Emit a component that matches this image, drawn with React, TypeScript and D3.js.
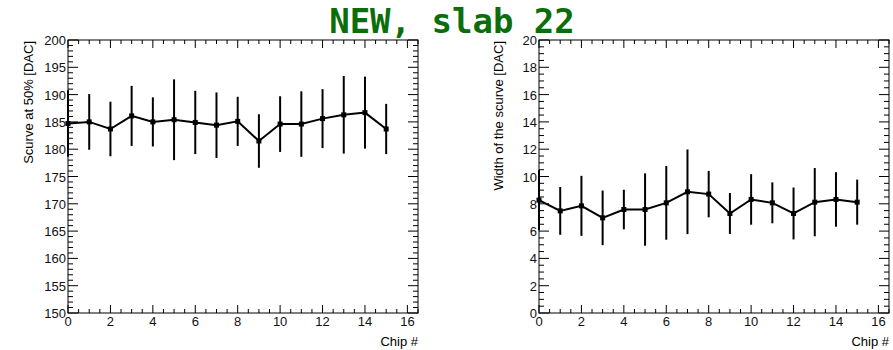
import React, { useEffect, useRef } from "react";
import * as d3 from "d3";

const chips = [0, 1, 2, 3, 4, 5, 6, 7, 8, 9, 10, 11, 12, 13, 14, 15];
const scurveMean = [184.7, 185.0, 183.7, 186.1, 185.0, 185.4, 184.9, 184.4, 185.1, 181.5, 184.6, 184.6, 185.6, 186.3, 186.7, 183.7];
const scurveErr = [6.1, 5.1, 5.0, 5.5, 4.5, 7.4, 5.8, 6.0, 4.5, 4.9, 5.1, 6.0, 5.4, 7.1, 6.6, 4.6];
const widthMean = [8.27, 7.48, 7.85, 6.97, 7.58, 7.58, 8.07, 8.88, 8.71, 7.29, 8.32, 8.07, 7.29, 8.12, 8.32, 8.12];
const widthErr = [2.2, 1.75, 2.2, 2.0, 1.45, 2.65, 2.7, 3.1, 1.7, 1.5, 1.85, 1.5, 1.9, 2.5, 2.0, 1.65];
const titleText = "NEW, slab 22";
const leftYLabel = "Scurve at 50% [DAC]";
const rightYLabel = "Width of the scurve [DAC]";
const xLabel = "Chip #";

type PanelCfg = {
  x0: number; x1: number; y0: number; y1: number;
  ymin: number; ymax: number; ymajor: number; yminor: number;
  vals: number[]; errs: number[]; ylabel: string; ylabelX: number;
};

function drawPanel(svg: d3.Selection<SVGSVGElement, unknown, null, undefined>, c: PanelCfg) {
  const g = svg.append("g");
  const x = d3.scaleLinear().domain([0, 16.5]).range([c.x0, c.x1]);
  const y = d3.scaleLinear().domain([c.ymin, c.ymax]).range([c.y1, c.y0]);
  const font = "'Liberation Sans', Arial, sans-serif";

  // frame
  g.append("rect").attr("x", c.x0).attr("y", c.y0).attr("width", c.x1 - c.x0).attr("height", c.y1 - c.y0)
    .attr("fill", "none").attr("stroke", "#000").attr("stroke-width", 1);

  // x ticks
  const xMinor = d3.range(0, 16.5001, 0.5);
  xMinor.forEach((v) => {
    const major = Math.abs(v / 2 - Math.round(v / 2)) < 1e-6;
    const len = major ? 8 : 4;
    const px = x(v);
    g.append("line").attr("x1", px).attr("x2", px).attr("y1", c.y1).attr("y2", c.y1 - len).attr("stroke", "#000");
    g.append("line").attr("x1", px).attr("x2", px).attr("y1", c.y0).attr("y2", c.y0 + len).attr("stroke", "#000");
    if (major) {
      g.append("text").attr("x", px).attr("y", c.y1 + 13).attr("text-anchor", "middle")
        .attr("font-family", font).attr("font-size", 13).attr("fill", "#111").text(String(v));
    }
  });

  // y ticks
  const n = Math.round((c.ymax - c.ymin) / c.yminor);
  for (let i = 0; i <= n; i++) {
    const v = c.ymin + i * c.yminor;
    const major = Math.abs((v - c.ymin) / c.ymajor - Math.round((v - c.ymin) / c.ymajor)) < 1e-6;
    const len = major ? 10 : 5;
    const py = y(v);
    g.append("line").attr("x1", c.x0).attr("x2", c.x0 + len).attr("y1", py).attr("y2", py).attr("stroke", "#000");
    g.append("line").attr("x1", c.x1).attr("x2", c.x1 - len).attr("y1", py).attr("y2", py).attr("stroke", "#000");
    if (major) {
      g.append("text").attr("x", c.x0 - 2).attr("y", py + 5).attr("text-anchor", "end")
        .attr("font-family", font).attr("font-size", 13).attr("fill", "#111").text(String(Math.round(v)));
    }
  }

  // axis titles
  g.append("text").attr("transform", `translate(${c.ylabelX},${c.y0 + 1}) rotate(-90)`)
    .attr("text-anchor", "end").attr("font-family", font).attr("font-size", 13).text(c.ylabel);
  g.append("text").attr("x", c.x1).attr("y", c.y1 + 33).attr("text-anchor", "end")
    .attr("font-family", font).attr("font-size", 13).text(xLabel);

  // error bars
  chips.forEach((ch, i) => {
    const lo = Math.max(c.vals[i] - c.errs[i], c.ymin);
    const hi = Math.min(c.vals[i] + c.errs[i], c.ymax);
    g.append("line").attr("x1", x(ch)).attr("x2", x(ch)).attr("y1", y(lo)).attr("y2", y(hi))
      .attr("stroke", "#000").attr("stroke-width", 2);
  });

  // line
  const line = d3.line<number>().x((_, i) => x(chips[i])).y((d) => y(d));
  g.append("path").attr("d", line(c.vals) || "").attr("fill", "none").attr("stroke", "#000").attr("stroke-width", 2);

  // markers
  chips.forEach((ch, i) => {
    g.append("rect").attr("x", x(ch) - 2.5).attr("y", y(c.vals[i]) - 2.5).attr("width", 5).attr("height", 5).attr("fill", "#000");
  });
}

export default function App() {
  const ref = useRef<SVGSVGElement>(null);
  useEffect(() => {
    if (!ref.current) return;
    const svg = d3.select(ref.current);
    svg.selectAll("*").remove();
    svg.append("rect").attr("width", 893).attr("height", 350).attr("fill", "#fff");
    drawPanel(svg, {
      x0: 68, x1: 418, y0: 40, y1: 313, ymin: 150, ymax: 200, ymajor: 5, yminor: 1,
      vals: scurveMean, errs: scurveErr, ylabel: leftYLabel, ylabelX: 33,
    });
    drawPanel(svg, {
      x0: 539, x1: 889, y0: 40, y1: 313, ymin: 0, ymax: 20, ymajor: 2, yminor: 0.5,
      vals: widthMean, errs: widthErr, ylabel: rightYLabel, ylabelX: 503,
    });
    svg.append("text").attr("x", 452).attr("y", 33).attr("text-anchor", "middle")
      .attr("font-family", "'DejaVu Sans Mono', monospace").attr("font-weight", "bold")
      .attr("font-size", 34).attr("fill", "#0b6e0b").text(titleText);
  }, []);
  return (
    <svg ref={ref} width={893} height={350} style={{ position: "absolute", left: 0, top: 0 }} />
  );
}
